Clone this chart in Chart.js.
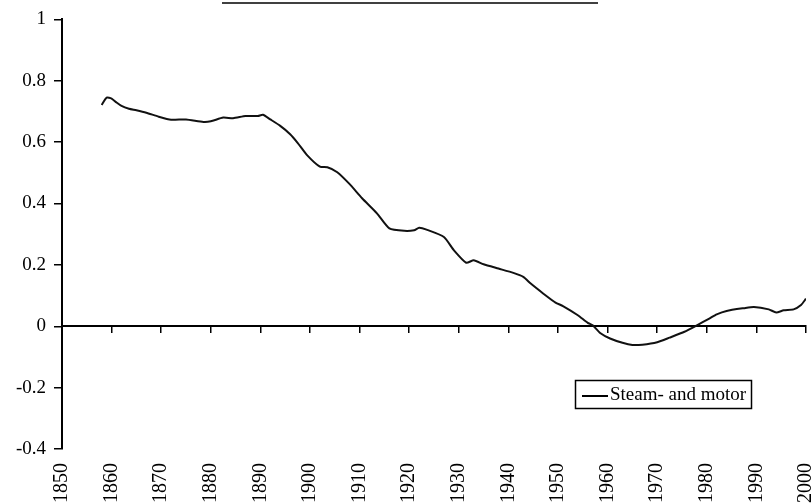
<!DOCTYPE html>
<html>
<head>
<meta charset="utf-8">
<script src="https://cdn.jsdelivr.net/npm/chart.js@4"></script>
<style>
  html, body { margin: 0; padding: 0; background: #fff; }
  #wrap { width: 812px; height: 504px; }
</style>
</head>
<body>
<div id="wrap"><canvas id="grafico"></canvas></div>
<script>
const anios = [1858, 1859, 1860, 1861, 1862, 1863.5, 1865, 1867, 1869.5, 1872, 1875, 1878.5, 1880, 1882.5, 1884.5,
    1887, 1889.5, 1890.5, 1892, 1894, 1896, 1897.5, 1899.5, 1902, 1903.5, 1905.5, 1908, 1910.5, 1913.5, 1916,
    1919, 1921, 1922, 1923.5, 1927, 1929, 1931.5, 1933, 1935, 1938, 1941, 1943, 1944.5, 1947, 1949.5, 1951,
    1954, 1956, 1957, 1958.5, 1960.5, 1963, 1965, 1967, 1970, 1972.5, 1975.5, 1978, 1980.5, 1982, 1984,
    1987.5, 1989.5, 1992.5, 1994, 1995.5, 1997.5, 1999, 2000];
const valores = [0.721, 0.745, 0.742, 0.729, 0.718, 0.709, 0.704, 0.696, 0.683, 0.673, 0.674, 0.666, 0.668, 0.680, 0.678,
    0.685, 0.685, 0.689, 0.674, 0.653, 0.626, 0.598, 0.556, 0.520, 0.518, 0.502, 0.463, 0.417, 0.368, 0.319,
    0.311, 0.313, 0.321, 0.315, 0.291, 0.248, 0.207, 0.215, 0.202, 0.188, 0.174, 0.161, 0.139, 0.107, 0.077, 0.066,
    0.036, 0.011, 0.003, -0.022, -0.040, -0.054, -0.061, -0.060, -0.052, -0.037, -0.018, 0.003, 0.025, 0.039, 0.050,
    0.059, 0.063, 0.055, 0.045, 0.052, 0.055, 0.069, 0.090];
const etiquetaSerie = 'Steam- and motor';
const ejeX = { min: 1850, max: 2000, paso: 10 };
const ejeY = { min: -0.4, max: 1, paso: 0.2 };

const familia = '"Liberation Serif", "Times New Roman", serif';
const fuente = { family: familia, size: 19 };
const fuenteX = { family: familia, size: 20 };

// leyenda dentro del area del grafico + subrayado del titulo
const leyendaPlugin = {
    id: 'leyendaDentro',
    afterDraw(chart) {
        const ctx = chart.ctx;
        ctx.save();
        // subrayado del titulo (el texto queda fuera del lienzo)
        ctx.strokeStyle = '#000';
        ctx.lineWidth = 1.5;
        ctx.beginPath();
        ctx.moveTo(222, 3);
        ctx.lineTo(598, 3);
        ctx.stroke();

        ctx.lineWidth = 1.5;
        ctx.strokeRect(575.5, 380.5, 176, 28);
        ctx.lineWidth = 2;
        ctx.beginPath();
        ctx.moveTo(582, 396);
        ctx.lineTo(608, 396);
        ctx.stroke();
        ctx.fillStyle = '#000';
        ctx.font = fuente.size + 'px ' + fuente.family;
        ctx.textBaseline = 'middle';
        ctx.fillText(chart.data.datasets[0].label, 610, 395);
        ctx.restore();
    }
};

new Chart(document.querySelector('#grafico'), {
    type: 'line',
    data: {
        datasets: [{
            label: etiquetaSerie,
            data: anios.map((a, i) => ({ x: a, y: valores[i] })),
            borderColor: '#111',
            borderWidth: 2,
            pointRadius: 0,
            tension: 0.2,
            fill: false
        }]
    },
    options: {
        responsive: true,
        maintainAspectRatio: false,
        animation: false,
        layout: { padding: { top: 19, right: 6, left: 0, bottom: 0 } },
        scales: {
            x: {
                type: 'linear',
                position: 'bottom',
                min: ejeX.min,
                max: ejeX.max,
                grid: { display: false, drawTicks: false },
                border: { display: false },
                ticks: {
                    stepSize: ejeX.paso,
                    autoSkip: false,
                    maxRotation: 90,
                    minRotation: 90,
                    padding: 14,
                    color: '#000',
                    font: fuenteX,
                    callback: v => String(v)
                },
                afterFit(scale) {
                    scale.height = 55;
                    scale.paddingLeft = 0;
                    scale.paddingRight = 0;
                }
            },
            x2: {
                type: 'linear',
                axis: 'x',
                position: { y: 0 },
                min: ejeX.min,
                max: ejeX.max,
                grid: { drawOnChartArea: false, drawTicks: true, tickLength: 6, color: '#000', lineWidth: 1.5 },
                border: { display: true, color: '#000', width: 2 },
                ticks: { display: false, stepSize: ejeX.paso }
            },
            y: {
                min: ejeY.min,
                max: ejeY.max,
                grid: { drawOnChartArea: false, drawTicks: true, tickLength: 8, color: '#000', lineWidth: 1.5 },
                border: { display: true, color: '#000', width: 2 },
                ticks: {
                    stepSize: ejeY.paso,
                    padding: 8,
                    color: '#000',
                    font: fuente,
                    callback: v => String(Math.round(v * 10) / 10)
                },
                afterFit(scale) {
                    scale.width = 62;
                }
            }
        },
        plugins: {
            legend: { display: false },
            tooltip: { enabled: false }
        }
    },
    plugins: [leyendaPlugin]
});
</script>
</body>
</html>
